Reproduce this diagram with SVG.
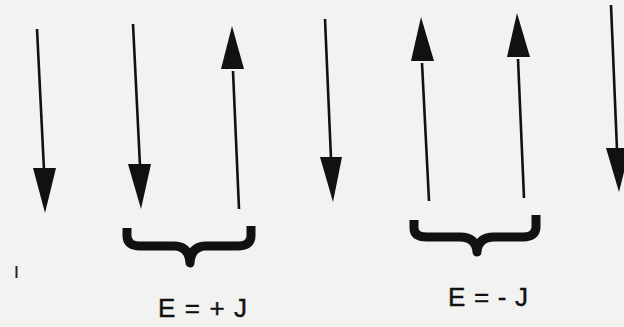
<svg xmlns="http://www.w3.org/2000/svg" width="624" height="327" viewBox="0 0 624 327">
<style>
.shaft{stroke:#111;stroke-width:2.6;fill:none;stroke-linecap:butt}
.head{fill:#111;stroke:none}
.brace{stroke:#111;stroke-width:9;fill:none;stroke-linejoin:round;stroke-linecap:butt}
.lbl{font-family:"Liberation Sans",Arial,sans-serif;font-size:26px;fill:#111;stroke:#111;stroke-width:0.4}
</style>
<rect width="624" height="327" fill="#f2f2f0"/>
<g id="spin1"><line class="shaft" x1="37" y1="29" x2="44" y2="170"/><polygon class="head" points="33,168 56,168 45,213"/></g>
<g id="spin2"><line class="shaft" x1="133" y1="24" x2="140" y2="166"/><polygon class="head" points="128,164 151,164 141,209"/></g>
<g id="spin3"><line class="shaft" x1="239" y1="209" x2="233" y2="71"/><polygon class="head" points="221,69 244,69 232,26"/></g>
<g id="spin4"><line class="shaft" x1="325" y1="19" x2="331" y2="159"/><polygon class="head" points="320,157 342,157 333,202"/></g>
<g id="spin5"><line class="shaft" x1="429" y1="201" x2="422" y2="63"/><polygon class="head" points="411,61 434,61 421,17"/></g>
<g id="spin6"><line class="shaft" x1="524" y1="198" x2="518" y2="59"/><polygon class="head" points="507,57 530,57 517,13"/></g>
<g id="spin7"><line class="shaft" x1="611" y1="5" x2="617" y2="150"/><polygon class="head" points="606,148 630,148 619,192"/></g>
<g id="connectors">
<path id="brace1" class="brace" d="M127,228 L127,236 Q127,246 140,246 L174,246 Q189,246 190,263 Q191,246 206,246 L238,246 Q251,246 251,236 L251,226"/>
<path id="brace2" class="brace" d="M414,220 L414,228 Q414,237 427,237 L460,237 Q476,237 477,252 Q478,237 494,237 L523,237 Q536,237 536,227 L536,215"/>
</g>
<g id="label1"><text class="lbl" x="158" y="317" textLength="89" lengthAdjust="spacing">E = + J</text></g>
<g id="label2"><text class="lbl" x="448" y="306" textLength="80" lengthAdjust="spacing">E = - J</text></g>
<line x1="16.5" y1="266" x2="16.5" y2="278" stroke="#222" stroke-width="2"/>
</svg>
